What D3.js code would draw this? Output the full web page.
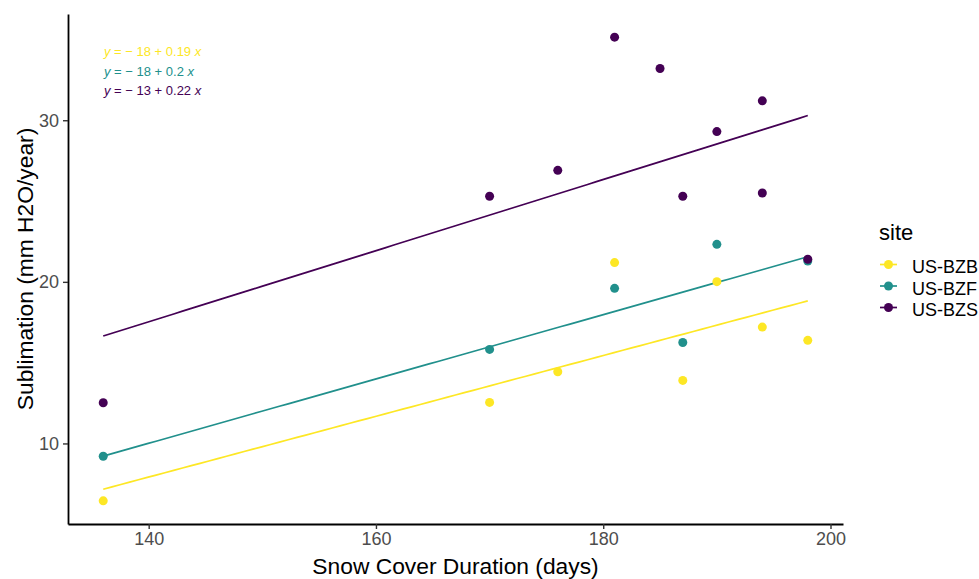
<!DOCTYPE html>
<html>
<head>
<meta charset="utf-8">
<script src="https://cdn.jsdelivr.net/npm/d3@7"></script>
<style>
  html, body { margin: 0; padding: 0; background: #fff; }
  svg { display: block; font-family: "Liberation Sans", Arial, sans-serif; }
</style>
</head>
<body>
<svg id="chart" width="979" height="579"></svg>
<script>
// ---- data ----
const sites = ["US-BZB", "US-BZF", "US-BZS"];
const siteColors = ["#FDE725", "#21908C", "#440154"];

const bzbX = [136, 170, 176, 181, 187, 190, 194, 198];
const bzbY = [6.45, 12.54, 14.44, 21.19, 13.9, 20.01, 17.2, 16.38];

const bzfX = [136, 170, 181, 187, 190, 198];
const bzfY = [9.21, 15.82, 19.6, 16.25, 22.32, 21.29];

const bzsX = [136, 170, 176, 181, 185, 187, 190, 194, 194, 198];
const bzsY = [12.52, 25.3, 26.9, 35.14, 33.2, 25.3, 29.3, 31.2, 25.5, 21.4];

const fitIntercepts = [-18.4, -17.85, -13.27];
const fitSlopes = [0.188, 0.199, 0.22];
const eqLabels = ["\u2212 18 + 0.19 ", "\u2212 18 + 0.2 ", "\u2212 13 + 0.22 "];

const xTicks = [140, 160, 180, 200];
const yTicks = [10, 20, 30];
const xTitle = "Snow Cover Duration (days)";
const yTitle = "Sublimation (mm H2O/year)";
const legendTitle = "site";

// ---- layout ----
(function () {
const svg = d3.select("#chart");
const pL = 68, pR = 843, pT = 14, pB = 524;

const allX = bzbX.concat(bzfX, bzsX);
const allY = bzbY.concat(bzfY, bzsY);
const xMin = d3.min(allX), xMax = d3.max(allX);
const yMin = d3.min(allY), yMax = d3.max(allY);
const xPad = (xMax - xMin) * 0.05, yPad = (yMax - yMin) * 0.05;

const x = d3.scaleLinear().domain([xMin - xPad, xMax + xPad]).range([pL, pR]);
const y = d3.scaleLinear().domain([yMin - yPad, yMax + yPad]).range([pB, pT]);

const seriesX = [bzbX, bzfX, bzsX];
const seriesY = [bzbY, bzfY, bzsY];

// regression lines
sites.forEach((s, i) => {
  const xs = seriesX[i];
  const x0 = d3.min(xs), x1 = d3.max(xs);
  const pts = d3.range(0, 81).map(k => {
    const xv = x0 + (x1 - x0) * k / 80;
    return [xv, fitIntercepts[i] + fitSlopes[i] * xv];
  });
  svg.append("path")
    .attr("d", d3.line().x(d => x(d[0])).y(d => y(d[1]))(pts))
    .attr("fill", "none")
    .attr("stroke", siteColors[i])
    .attr("stroke-width", 1.7);
});

// points
sites.forEach((s, i) => {
  svg.append("g").selectAll("circle")
    .data(seriesX[i].map((v, k) => [v, seriesY[i][k]]))
    .join("circle")
    .attr("cx", d => x(d[0]))
    .attr("cy", d => y(d[1]))
    .attr("r", 4.5)
    .attr("fill", siteColors[i]);
});

// axes
const xAxis = svg.append("g").attr("transform", `translate(0,${pB})`)
  .call(d3.axisBottom(x).tickValues(xTicks).tickSize(5).tickSizeOuter(0).tickPadding(3));
const yAxis = svg.append("g").attr("transform", `translate(${pL},0)`)
  .call(d3.axisLeft(y).tickValues(yTicks).tickSize(5).tickSizeOuter(0).tickPadding(4));
[xAxis, yAxis].forEach(g => {
  g.select(".domain").attr("stroke", "#000").attr("stroke-width", 1.8);
  g.selectAll(".tick line").attr("stroke", "#333").attr("stroke-width", 1.4);
  g.selectAll(".tick text").attr("fill", "#4D4D4D").style("font-size", "18px")
    .style("font-family", "'Liberation Sans', Arial, sans-serif");
});

// axis titles
svg.append("text").attr("x", (pL + pR) / 2).attr("y", 574)
  .attr("text-anchor", "middle").style("font-size", "22.8px").attr("fill", "#000")
  .text(xTitle);
svg.append("text")
  .attr("transform", `translate(33,${(pT + pB) / 2}) rotate(-90)`)
  .attr("text-anchor", "middle").style("font-size", "22.8px").attr("fill", "#000")
  .text(yTitle);

// equation labels
sites.forEach((s, i) => {
  const t = svg.append("text").attr("x", 104).attr("y", 56 + i * 19.5)
    .style("font-size", "13px").attr("fill", siteColors[i]);
  t.append("tspan").style("font-style", "italic").text("y");
  t.append("tspan").text(" = " + eqLabels[i]);
  t.append("tspan").style("font-style", "italic").text("x");
});

// legend
svg.append("text").attr("x", 879).attr("y", 240).style("font-size", "22px")
  .attr("fill", "#000").text(legendTitle);
sites.forEach((s, i) => {
  const cy = 264.5 + i * 21.5;
  svg.append("line").attr("x1", 880).attr("x2", 897).attr("y1", cy).attr("y2", cy)
    .attr("stroke", siteColors[i]).attr("stroke-width", 1.7);
  svg.append("circle").attr("cx", 888.5).attr("cy", cy).attr("r", 4.5).attr("fill", siteColors[i]);
  svg.append("text").attr("x", 912).attr("y", cy + 8.5).style("font-size", "18px")
    .attr("fill", "#000").text(s);
});
})();
</script>
</body>
</html>
